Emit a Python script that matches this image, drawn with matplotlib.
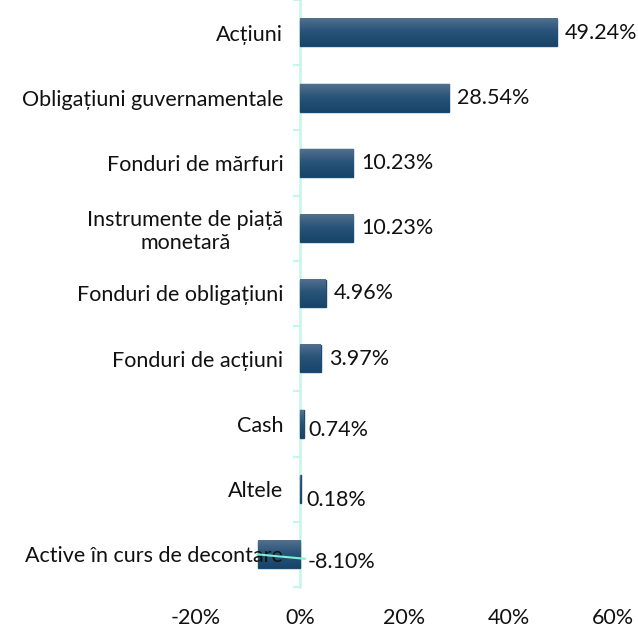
import matplotlib
matplotlib.use('Agg')
import matplotlib.pyplot as plt
import numpy as np
from matplotlib.colors import LinearSegmentedColormap

categories = ['Acțiuni', 'Obligațiuni guvernamentale', 'Fonduri de mărfuri',
              'Instrumente de piață\nmonetară', 'Fonduri de obligațiuni',
              'Fonduri de acțiuni', 'Cash', 'Altele', 'Active în curs de decontare']
values = [49.24, 28.54, 10.23, 10.23, 4.96, 3.97, 0.74, 0.18, -8.10]
xticks = [-20, 0, 20, 40, 60]
xtick_labels = ['-20%', '0%', '20%', '40%', '60%']

plt.rcParams['font.family'] = ['Lato', 'DejaVu Sans']
FS = 15.5
AXIS_C = '#c4f7e8'
BAR_C = '#1d4a70'
bar_cmap = LinearSegmentedColormap.from_list(
    'bar', [(0.0, '#52708e'), (0.45, '#2a5479'), (1.0, '#17446b')])

fig = plt.figure(figsize=(6.38, 6.28), dpi=100)
ax = fig.add_axes([0.3064, 0.0653, 0.655, 0.9347])

y = np.arange(len(categories))
h = 0.42
bars = ax.barh(y, values, height=h, color=BAR_C, edgecolor=BAR_C,
               linewidth=1.0, zorder=2)
grad = np.linspace(0, 1, 100).reshape(-1, 1)
for b in bars:
    x0 = b.get_x()
    x1 = x0 + b.get_width()
    yc = b.get_y() + b.get_height() / 2
    ax.imshow(grad, extent=(min(x0, x1), max(x0, x1), yc + h / 2, yc - h / 2),
              aspect='auto', cmap=bar_cmap, zorder=2.1, interpolation='bilinear')

ax.set_xlim(-20, 60)
ax.set_ylim(len(categories) - 0.5, -0.5)

for s in ['top', 'right', 'bottom']:
    ax.spines[s].set_visible(False)
ax.spines['left'].set_position(('data', 0))
ax.spines['left'].set_color(AXIS_C)
ax.spines['left'].set_linewidth(1.8)
ax.spines['left'].set_zorder(1.9)
ax.yaxis.set_zorder(3)

ax.set_yticks(y)
ax.set_yticklabels(categories, fontsize=FS, multialignment='center',
                   color='#111111')
ax.set_yticks(np.arange(len(categories) + 1) - 0.5, minor=True)
ax.tick_params(axis='y', which='major', length=0, pad=12)
ax.tick_params(axis='y', which='minor', length=5, width=1.5, color=AXIS_C)

ax.set_xticks(xticks)
ax.set_xticklabels(xtick_labels, fontsize=FS, color='#111111')
ax.tick_params(axis='x', length=0, pad=15)

# value labels; the smallest bars have their labels nudged downward
dy_px = [0, 0, 0, 0, 0, 0, -6.5, -11, 0]
dx_px = [8, 8, 8, 8, 8, 8, 5, 5, 0]
for i, v in enumerate(values):
    if v >= 0:
        ax.annotate(f'{v:.2f}%', xy=(v, i),
                    xytext=(dx_px[i] * 0.72, dy_px[i] * 0.72),
                    textcoords='offset points', va='center', ha='left',
                    fontsize=FS, color='#111111', zorder=4)
    else:
        ax.annotate(f'{v:.2f}%', xy=(v, i), xytext=(1.5, i + 0.12),
                    textcoords='data', va='center', ha='left',
                    fontsize=FS, color='#111111', zorder=4,
                    arrowprops=dict(arrowstyle='-', color='#7ef0d6', lw=1.5,
                                    shrinkA=0, shrinkB=0))

fig.savefig('out.png', dpi=100)
